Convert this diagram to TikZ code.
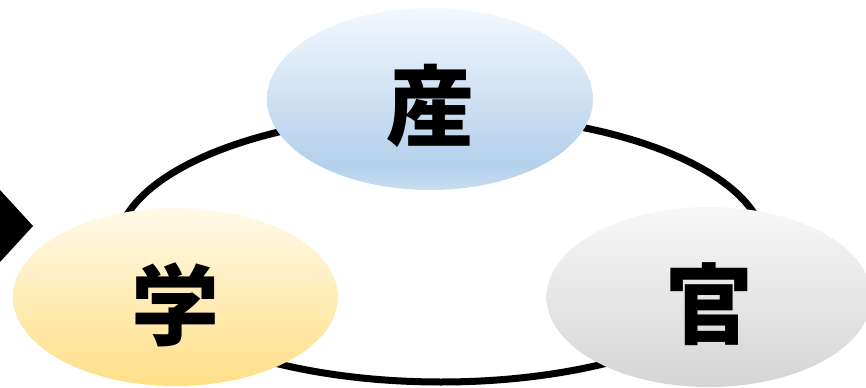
\documentclass[tikz,border=0pt]{standalone}
\usepackage{fontspec}
\newfontfamily\cjk{Noto Sans CJK JP}
\usetikzlibrary{shapes.geometric}
\definecolor{santop}{HTML}{F3F8FD}
\definecolor{sanmid}{HTML}{B4D0EB}
\definecolor{sanbot}{HTML}{C8DDF1}
\definecolor{gakutop}{HTML}{FFF9E8}
\definecolor{gakubot}{HTML}{FFDF87}
\definecolor{kantop}{HTML}{F7F7F7}
\definecolor{kanbot}{HTML}{D5D5D5}
\pgfdeclareverticalshading{sanshade}{100bp}{color(0bp)=(sanbot); color(25bp)=(sanbot); color(32bp)=(sanmid); color(75bp)=(santop); color(100bp)=(santop)}
\pgfdeclareverticalshading{gakushade}{100bp}{color(0bp)=(gakubot); color(25bp)=(gakubot); color(75bp)=(gakutop); color(100bp)=(gakutop)}
\pgfdeclareverticalshading{kanshade}{100bp}{color(0bp)=(kanbot); color(25bp)=(kanbot); color(75bp)=(kantop); color(100bp)=(kantop)}
\tikzset{
  bubble/.style={ellipse, inner sep=0pt, draw=none, minimum width=243.75pt, minimum height=135pt},
  kanji/.style={inner sep=0pt, font=\cjk\bfseries\fontsize{66}{66}\selectfont}
}
\begin{document}
\begin{tikzpicture}[x=0.75pt,y=-0.75pt]
    \useasboundingbox (0,0) rectangle (866,388);
    \fill (0,190) -- (33,226) -- (0,262) -- cycle;
    \draw [line width=5.25pt] (441,248) ellipse [x radius=324, y radius=134];
    \node [bubble, shading=sanshade, minimum width=244.5pt, minimum height=136.5pt] (san) at (430,99) {};
    \node [bubble, shading=gakushade, minimum height=133.5pt] (gaku) at (175.5,297) {};
    \node [bubble, shading=kanshade] (kan) at (709,297) {};
    \node [kanji] (sanlbl) at ([yshift=-5pt]san.center) {産};
    \node [kanji] (gakulbl) at ([yshift=-6pt]gaku.center) {学};
    \node [kanji] (kanlbl) at ([yshift=-5pt]kan.center) {官};
  \end{tikzpicture}
\end{document}
